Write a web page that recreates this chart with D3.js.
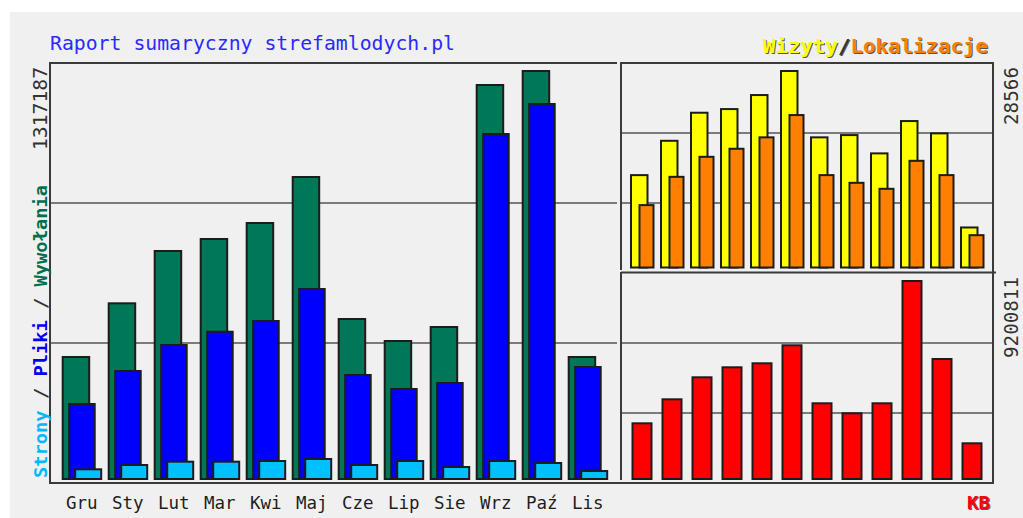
<!DOCTYPE html>
<html><head><meta charset="utf-8">
<script src="https://cdn.jsdelivr.net/npm/d3@7"></script>
<style>
html,body{margin:0;padding:0;background:#fff;}
svg{display:block;}
text{font-family:"DejaVu Sans Mono",monospace;}
</style></head>
<body>
<svg id="chart" width="1023" height="518"></svg>
<script>
// ---- data ----
const months = ["Gru","Sty","Lut","Mar","Kwi","Maj","Cze","Lip","Sie","Wrz","Paź","Lis"];
const wywolania = [393900,567200,736100,774800,826500,975000,516500,445500,490700,1272000,1317187,393900];
const pliki     = [242100,348700,432600,475500,510100,613400,335800,290600,309900,1113800,1210700,361600];
const strony    = [31300,45200,55900,55900,58100,64600,45200,58100,38700,58100,51700,25800];
const wizyty      = [13430,18420,22500,23030,25070,28566,18920,19250,16590,21290,19500,5820];
const lokalizacje = [9070,13180,16090,17260,18920,22160,13430,12310,11440,15510,13430,4700];
const kb = [2588300,3703600,4725900,5190600,5376500,6212900,3517700,3053000,3517700,9200811,5576300,1658900];
const maxLeft = 1317187, maxVisits = 28566, maxKB = 9200811;

const svg = d3.select("#chart");
// background panel
svg.append("rect").attr("x",10).attr("y",12).attr("width",1013).attr("height",506).attr("fill","#f0f0f0");

const lineCol = "#3a3a3a", gridCol = "#555";
const barStroke = "#1c1c1c";

// scales
const xL = d3.scaleBand().domain(months).range([62.7, 62.7 + 46*12]);
const xR = d3.scaleBand().domain(months).range([631, 631 + 30*12]);
const yL = d3.scaleLinear().domain([0, maxLeft]).range([479, 71]);
const yT = d3.scaleLinear().domain([0, maxVisits]).range([267.5, 71]);
const yB = d3.scaleLinear().domain([0, maxKB]).range([479, 281]);

// grid lines
const g = svg.append("g");
[203, 343].forEach(y => g.append("line").attr("x1",50).attr("x2",617).attr("y1",y).attr("y2",y).attr("stroke",gridCol).attr("stroke-width",1.5));
[133, 203, 343, 413].forEach(y => g.append("line").attr("x1",621).attr("x2",993).attr("y1",y).attr("y2",y).attr("stroke",gridCol).attr("stroke-width",1.5));

// frames
function ln(x1,y1,x2,y2,w){ g.append("line").attr("x1",x1).attr("y1",y1).attr("x2",x2).attr("y2",y2).attr("stroke",lineCol).attr("stroke-width",w||2); }
ln(50,63,617,63); ln(50,62,50,484); ln(50,483,994,483);
ln(621,63,993,63); ln(621,62,621,270); ln(993,62,993,484);
ln(621,272.5,996,272.5); ln(621,272,621,480);

// left bars
function bars(data, xs, ys, off, w, fill){
  svg.append("g").selectAll("rect").data(data).join("rect")
    .attr("x",(d,i)=>xs(months[i])+off).attr("width",w)
    .attr("y",d=>ys(d)).attr("height",d=>ys(0)-ys(d))
    .attr("fill",fill).attr("stroke",barStroke).attr("stroke-width",2);
}
bars(wywolania, xL, yL, 0, 26.5, "#007858");
bars(pliki, xL, yL, 6.5, 25.5, "#0000ff");
bars(strony, xL, yL, 12.5, 26, "#00c0ff");
bars(wizyty, xR, yT, 0, 16.5, "#ffff00");
bars(lokalizacje, xR, yT, 8.5, 14, "#ff8000");
bars(kb, xR, yB, 1.5, 19, "#ff0000");

// month labels
svg.append("g").selectAll("text").data(months).join("text")
  .attr("x",d=>xL(d)+19).attr("y",509).attr("text-anchor","middle")
  .attr("font-size",17.5).attr("fill","#1e1e1e").text(d=>d);

// title
svg.append("text").attr("x",50).attr("y",50).attr("font-size",19)
  .attr("fill","#2a2aff").attr("textLength",405).attr("lengthAdjust","spacingAndGlyphs")
  .text("Raport sumaryczny strefamlodych.pl");

// legend top-right with shadow
function shadowText(parent, x, y, parts, opts){
  [[1,1,true],[0,0,false]].forEach(([dx,dy,sh])=>{
    const t = parent.append("text").attr("x",x+dx).attr("y",y+dy)
      .attr("font-size",opts.size).attr("font-weight","bold");
    if(opts.anchor) t.attr("text-anchor",opts.anchor);
    if(opts.len) t.attr("textLength",opts.len).attr("lengthAdjust","spacingAndGlyphs");
    if(opts.transform) t.attr("transform",opts.transform);
    parts.forEach(p=>t.append("tspan").attr("fill", sh ? "#555" : p[1]).text(p[0]));
  });
}
shadowText(svg, 763, 53, [["Wizyty","#ffff00"],["/","#333"],["Lokalizacje","#ff8000"]], {size:19, len:225});
shadowText(svg, 967, 509, [["KB","#ff0000"]], {size:18, len:23});

// left vertical legend
const vl = svg.append("g").attr("transform","translate(47,478) rotate(-90)");
const vt = vl.append("text").attr("x",0).attr("y",0).attr("font-size",18).attr("font-weight","bold")
  .attr("textLength",293).attr("lengthAdjust","spacingAndGlyphs");
[["Strony","#00b8ff"],[" / ","#333"],["Pliki","#0000ff"],[" / ","#333"],["Wywołania","#007050"]]
  .forEach(p=>vt.append("tspan").attr("fill",p[1]).text(p[0]));

// max labels (rotated)
function vlabel(x, yEnd, txt, len){
  svg.append("text").attr("transform",`translate(${x},${yEnd}) rotate(-90)`)
    .attr("text-anchor","end").attr("font-size",19).attr("fill","#333")
    .attr("textLength",len).attr("lengthAdjust","spacingAndGlyphs").text(txt);
}
vlabel(47, 67, d3.format("d")(maxLeft), 83);
vlabel(1018, 67, d3.format("d")(maxVisits), 58);
vlabel(1018, 277, d3.format("d")(maxKB), 81);
</script>
</body></html>
